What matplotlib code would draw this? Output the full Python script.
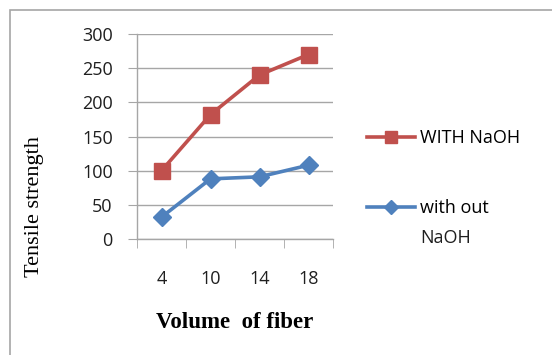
import matplotlib.pyplot as plt
from matplotlib.patches import Rectangle
from matplotlib.ticker import FixedLocator

# Data
volume = ['4', '10', '14', '18']
with_naoh = [100, 182, 240, 270]
without_naoh = [32, 88, 91, 108]

red = '#C0504D'
blue = '#4F81BD'
W, H = 552, 355

fig = plt.figure(figsize=(5.52, 3.55), dpi=100)

# outer chart frame (only top and left edges show in the crop)
fig.patches.append(Rectangle((10/W, -0.05), 1.2, 1 - 10/H + 0.05,
                             transform=fig.transFigure, fill=False,
                             edgecolor='#A6A6A6', linewidth=1.2))

ax = fig.add_axes([137/W, 1 - 239/H, (333 - 137)/W, (239 - 34)/H])

x = list(range(len(volume)))
ax.plot(x, with_naoh, color=red, linewidth=2.6, marker='s', markersize=11.5,
        label='WITH NaOH', zorder=3)
ax.plot(x, without_naoh, color=blue, linewidth=2.6, marker='D', markersize=9.5,
        label='with out', zorder=3)

ax.set_xlim(-0.5, 3.5)
ax.set_ylim(0, 300)
ax.set_yticks(range(0, 301, 50))
ax.set_xticks(x)
ax.set_xticklabels(volume)
ax.xaxis.set_minor_locator(FixedLocator([-0.5, 0.5, 1.5, 2.5, 3.5]))

ax.grid(axis='y', color='#A6A6A6', linewidth=1.0, zorder=0)
ax.set_axisbelow(True)
for s in ['top', 'right']:
    ax.spines[s].set_visible(False)
for s in ['left', 'bottom']:
    ax.spines[s].set_color('#A6A6A6')
    ax.spines[s].set_linewidth(1.0)

ax.tick_params(axis='y', which='major', length=6.5, color='#A6A6A6',
               labelsize=13, pad=11)
ax.tick_params(axis='x', which='major', length=0, labelsize=13, pad=22)
ax.tick_params(axis='x', which='minor', length=6.5, color='#A6A6A6')
for lab in ax.get_xticklabels() + ax.get_yticklabels():
    lab.set_family('Open Sans')
    lab.set_color('#1F1F1F')

ax.set_xlabel('Volume  of fiber', family='Liberation Serif', fontweight='bold',
              fontsize=16.5)
ax.xaxis.set_label_coords(0.5, (239 - 312) / 205)
ax.set_ylabel('Tensile strength', family='Liberation Serif', fontsize=16)
ax.yaxis.label.set_va('center')
ax.yaxis.set_label_coords((34 - 137) / 196, (239 - 207) / 205)

leg = fig.legend(loc='upper left', bbox_to_anchor=(367/W, 1 - 129/H),
                 frameon=False, prop={'family': 'Open Sans', 'size': 13},
                 handlelength=2.65, handletextpad=0.3, labelspacing=2.88,
                 borderpad=0, borderaxespad=0, markerscale=0.8)
# second line of the blue entry's label
fig.text(420/W, 1 - 238/H, 'NaOH', family='Open Sans', fontsize=13,
         va='center', ha='left', color='#1F1F1F')

fig.savefig('out.png', dpi=100)
